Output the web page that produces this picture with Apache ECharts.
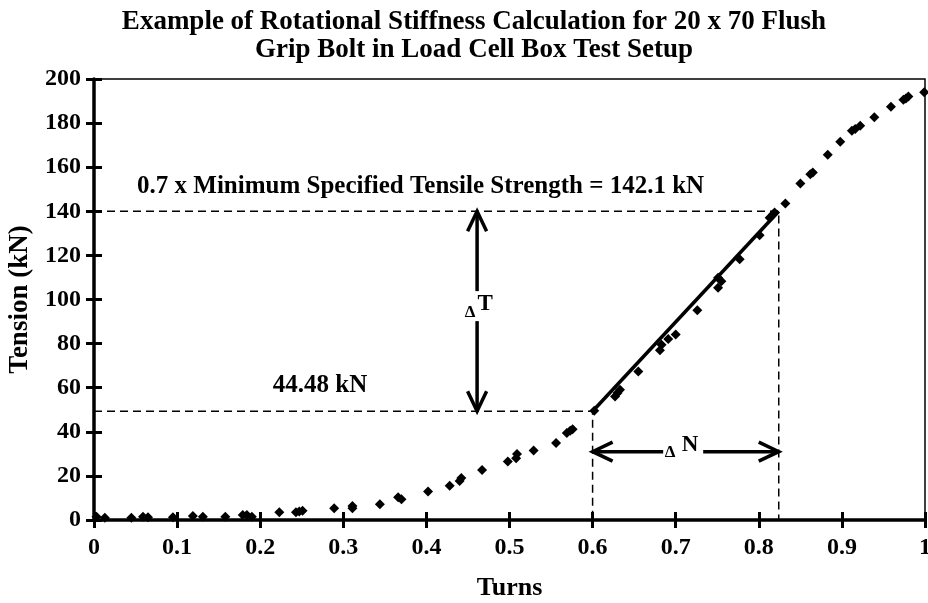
<!DOCTYPE html>
<html><head><meta charset="utf-8">
<script src="https://cdn.jsdelivr.net/npm/echarts@6/dist/echarts.min.js"></script>
<style>html,body{margin:0;padding:0;background:#fff}#c{width:928px;height:603px}</style>
</head><body><div id="c"></div>
<script>
// ---- data ----
const titleLines = ['Example of Rotational Stiffness Calculation for 20 x 70 Flush', 'Grip Bolt in Load Cell Box Test Setup'];
const xAxisName = 'Turns';
const yAxisName = 'Tension (kN)';
const turns = [0.003,0.013,0.045,0.059,0.065,0.095,0.119,0.131,0.158,0.179,0.184,0.190,0.223,0.243,0.247,0.251,0.289,0.311,0.311,0.344,0.366,0.370,0.402,0.428,0.440,0.442,0.467,0.498,0.508,0.509,0.529,0.556,0.569,0.573,0.576,0.602,0.627,0.630,0.633,0.655,0.681,0.683,0.691,0.700,0.726,0.751,0.751,0.755,0.777,0.801,0.813,0.817,0.819,0.832,0.850,0.862,0.865,0.883,0.898,0.912,0.916,0.922,0.939,0.959,0.974,0.977,0.980,0.999];
const tension = [1.5,1.0,1.0,1.5,1.2,1.2,1.8,1.5,1.5,2.3,2.3,1.5,3.5,3.5,3.8,4.2,5.3,5.3,6.4,7.1,10.3,9.4,12.9,15.5,17.7,19.0,22.7,26.5,28.0,29.9,31.5,34.9,39.4,40.5,41.2,49.5,56.0,57.6,59.1,67.4,77.0,79.5,82.1,84.1,95.1,105.3,109.9,108.3,118.2,129.1,137.1,138.6,139.4,143.5,152.6,156.8,157.6,165.6,171.5,176.5,177.3,178.8,182.6,187.4,190.6,191.2,192.1,194.0];
const fitTurns = [0.6, 0.824];
const fitTension = [49.3, 140];
const strengthLabel = '0.7 x Minimum Specified Tensile Strength = 142.1 kN';
const lowLabel = '44.48 kN';
const strengthLabelAt = [0.393, 151];
const lowLabelAt = [0.272, 60.9];
const deltaTAt = [0.461, 97];
const deltaNAt = [0.709, 31];

const FONT = '"Liberation Serif", "Times New Roman", serif';
const chart = echarts.init(document.getElementById('c'), null, {renderer:'canvas'});

const points = turns.map((t, i) => [t, tension[i]]);
const guideHigh = [[0, fitTension[1]], [fitTurns[1], fitTension[1]], [fitTurns[1], 0]];
const guideLow = [[0, fitTension[0]], [fitTurns[0], fitTension[0]], [fitTurns[0], 0]];
const fitLine = fitTurns.map((t, i) => [t, fitTension[i]]);

const axisText = {fontFamily: FONT, fontWeight: 'bold', fontSize: 24, color: '#000'};
const tickStyle = {color: '#000', width: 3};

function renderNotes(params, api) {
  const P = (x, y) => api.coord([x, y]);
  const ch = [];
  const stroke = {stroke: '#000', lineWidth: 3.5, fill: null};
  const seg = (a, b) => ch.push({type: 'line', shape: {x1: a[0], y1: a[1], x2: b[0], y2: b[1]}, style: stroke});
  const head = (tip, d) => {
    const L = 20, W = 9.5, nx = -d[1], ny = d[0];
    ch.push({type: 'polyline', shape: {points: [[tip[0] + d[0]*L + nx*W, tip[1] + d[1]*L + ny*W], tip, [tip[0] + d[0]*L - nx*W, tip[1] + d[1]*L - ny*W]]}, style: stroke});
  };
  const txt = (s, x, y, size) => ch.push({type: 'text', style: {text: s, x: x, y: y, align: 'center', verticalAlign: 'middle', fontFamily: FONT, fontWeight: 'bold', fontSize: size, fill: '#000'}});
  // Delta T arrow
  const tTop = P(deltaTAt[0], fitTension[1]);
  const tBot = P(deltaTAt[0], fitTension[0]);
  const tMid = P(deltaTAt[0], deltaTAt[1]);
  seg(tTop, [tMid[0], tMid[1] - 15]);
  seg([tMid[0], tMid[1] + 15], tBot);
  head(tTop, [0, 1]);
  head(tBot, [0, -1]);
  txt('\u0394', tMid[0] - 7, tMid[1] + 6, 17);
  txt('T', tMid[0] + 8, tMid[1] - 2, 23);
  // Delta N arrow
  const nL = P(fitTurns[0], deltaNAt[1]);
  const nR = P(fitTurns[1], deltaNAt[1]);
  const nMid = P(deltaNAt[0], deltaNAt[1]);
  seg(nL, [nMid[0] - 20, nMid[1]]);
  seg([nMid[0] + 20, nMid[1]], nR);
  head(nL, [1, 0]);
  head(nR, [-1, 0]);
  txt('\u0394', nMid[0] - 13, nMid[1] + 1, 17);
  txt('N', nMid[0] + 7, nMid[1] - 7, 23);
  // labels
  const s = P(strengthLabelAt[0], strengthLabelAt[1]);
  txt(strengthLabel, s[0], s[1], 25);
  const l = P(lowLabelAt[0], lowLabelAt[1]);
  txt(lowLabel, l[0], l[1], 25);
  return {type: 'group', children: ch};
}

const option = {
  animation: false,
  backgroundColor: '#fff',
  title: {
    text: titleLines.join('\n'), left: 474, textAlign: 'center', top: 3, padding: [5, 0, 5, 0],
    textStyle: {fontFamily: FONT, fontWeight: 'bold', fontSize: 27, lineHeight: 28, color: '#000'}
  },
  grid: {left: 94, right: 3, top: 79, bottom: 83, show: true, borderColor: '#000', borderWidth: 1.5, backgroundColor: 'transparent', outerBoundsMode: 'none', containLabel: false},
  xAxis: [
    {type: 'value', min: 0, max: 1, interval: 0.1, position: 'bottom',
     name: xAxisName, nameLocation: 'middle', nameGap: 55,
     nameTextStyle: {fontFamily: FONT, fontWeight: 'bold', fontSize: 26, color: '#000'},
     axisLine: {show: true, onZero: false, lineStyle: {color: '#000', width: 3.5}},
     axisTick: {show: true, length: 8, lineStyle: tickStyle},
     axisLabel: Object.assign({margin: 16}, axisText),
     splitLine: {show: false}},
    {type: 'value', min: 0, max: 1, interval: 0.1, position: 'bottom',
     axisLine: {show: false}, axisTick: {show: true, inside: true, length: 8, lineStyle: tickStyle},
     axisLabel: {show: false}, splitLine: {show: false}}
  ],
  yAxis: [
    {type: 'value', min: 0, max: 200, interval: 20, position: 'left',
     name: yAxisName, nameLocation: 'middle', nameGap: 60,
     nameTextStyle: {fontFamily: FONT, fontWeight: 'bold', fontSize: 27, color: '#000'},
     axisLine: {show: true, onZero: false, lineStyle: {color: '#000', width: 3.5}},
     axisTick: {show: true, length: 8, lineStyle: tickStyle},
     axisLabel: Object.assign({margin: 13}, axisText),
     splitLine: {show: false}},
    {type: 'value', min: 0, max: 200, interval: 20, position: 'left',
     axisLine: {show: false}, axisTick: {show: true, inside: true, length: 8, lineStyle: tickStyle},
     axisLabel: {show: false}, splitLine: {show: false}}
  ],
  series: [
    {type: 'line', data: guideHigh, showSymbol: false, symbol: 'none', silent: true,
     lineStyle: {color: '#000', width: 1.5, type: [8, 5]}, z: 1},
    {type: 'line', data: guideLow, showSymbol: false, symbol: 'none', silent: true,
     lineStyle: {color: '#000', width: 1.5, type: [8, 5]}, z: 1},
    {type: 'scatter', data: points, symbol: 'diamond', symbolSize: 10, itemStyle: {color: '#000', opacity: 1}, z: 3},
    {type: 'line', data: fitLine, showSymbol: false, symbol: 'none', lineStyle: {color: '#000', width: 3.5}, z: 4},
    {type: 'custom', data: [[0, 0]], renderItem: renderNotes, clip: false, silent: true, z: 5}
  ]
};
chart.setOption(option);
</script></body></html>
